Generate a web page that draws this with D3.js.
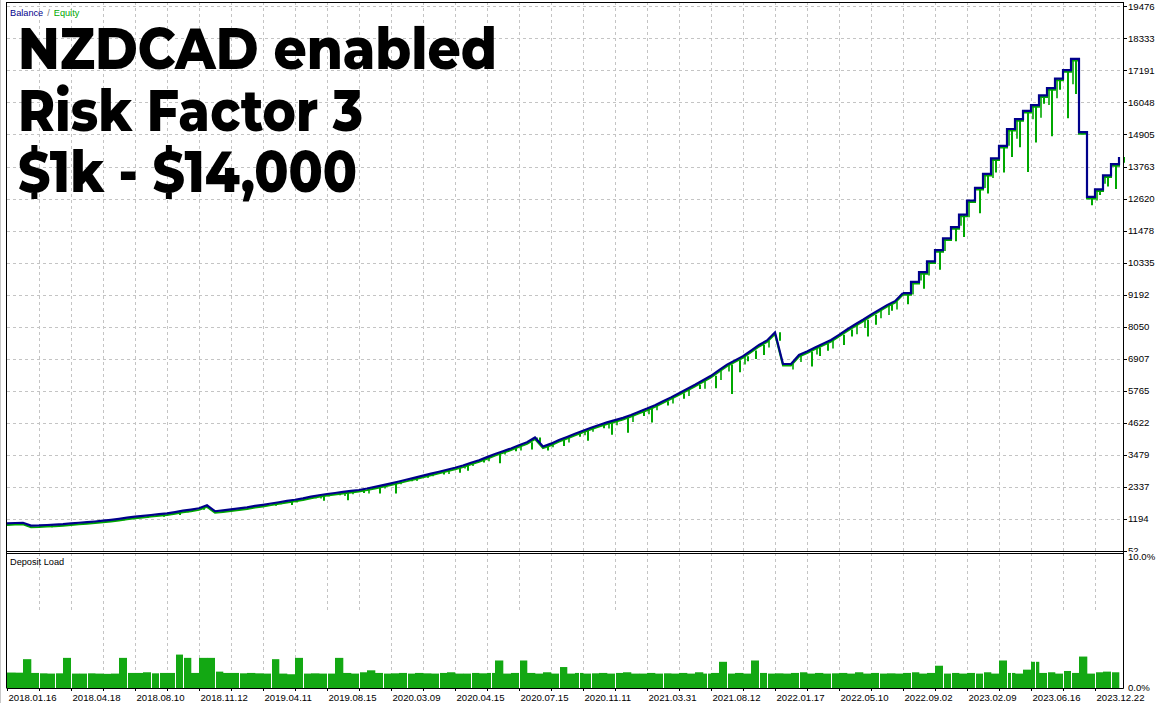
<!DOCTYPE html>
<html><head><meta charset="utf-8">
<script src="https://cdn.jsdelivr.net/npm/d3@7/dist/d3.min.js"></script>
<style>body{margin:0;background:#fff}svg{display:block}</style>
</head><body><svg id="c" width="1160" height="703"></svg>
<script>
// ---------- data ----------
const dateLabels = ["2018.01.16","2018.04.18","2018.08.10","2018.11.12","2019.04.11","2019.08.15",
  "2020.03.09","2020.04.15","2020.07.15","2020.11.11","2021.03.31","2021.08.12","2022.01.17",
  "2022.05.10","2022.09.02","2023.02.09","2023.06.16","2023.12.22"];
const yTickValues = [52,1194,2337,3479,4622,5765,6907,8050,9192,10335,11478,12620,13763,14905,16048,17191,18333,19476];
const loadTickLabels = ["0.0%","10.0%"];
const loadTickValues = [0,10];
const legendParts = ["Balance","/","Equity"];
const balance = [
 1040,1050,1060,960,965,980,995,1010,1040,1060,
 1080,1105,1133,1165,1200,1240,1275,1305,1335,1365,
 1396,1440,1490,1530,1575,1682,1470,1500,1535,1570,
 1610,1660,1700,1745,1790,1840,1880,1930,1990,2040,
 2085,2120,2160,2195,2227,2280,2340,2400,2466,2530,
 2600,2670,2740,2810,2880,2950,3020,3100,3200,3290,
 3400,3510,3610,3710,3820,3930,4100,3780,3880,4010,
 4120,4230,4340,4450,4545,4640,4720,4800,4900,5020,
 5130,5250,5390,5530,5680,5830,5980,6140,6300,6500,
 6700,6850,7000,7200,7400,7560,7850,6720,6720,7041,
 7170,7310,7440,7576,7760,7950,8130,8300,8480,8650,
 8820,8960,9250,9650,10000,10380,10780,11200,11600,12050,
 12550,13000,13500,14050,14500,15100,15450,15750,15950,16300,
 16560,16900,17200,17600,14990,12680,12950,13450,13850,14100];
// deepest equity dips below balance within each step (two spikes per step)
const equityDrawdown = [
 0,30,0,0,60,80,40,0,0,30,
 40,0,30,0,50,0,0,70,0,90,
 50,100,60,0,50,0,0,40,0,0,
 60,0,40,80,0,150,0,0,60,200,
 0,80,300,0,110,0,240,0,360,0,
 60,0,80,0,100,0,180,190,0,80,
 0,330,0,100,0,260,260,140,0,210,
 0,100,360,0,120,440,0,535,0,150,
 500,0,150,0,200,0,150,0,440,0,
 1050,420,180,300,360,0,300,0,0,0,
 535,300,250,0,360,250,0,600,360,0,
 200,0,400,0,600,0,700,0,500,800,
 0,900,700,500,950,1000,1000,2180,1330,300,
 1720,400,1720,1250,0,300,200,400,890,200];
const equityDrawdown2 = [
 0,0,0,0,0,40,0,0,30,0,
 0,40,0,50,0,0,40,0,60,0,
 0,60,0,50,0,0,40,0,50,0,
 0,50,0,0,70,0,100,60,0,120,
 90,0,150,120,0,180,0,120,0,100,
 0,120,0,90,0,150,0,110,120,0,
 150,0,120,0,180,0,150,0,130,0,
 200,0,160,150,0,220,180,0,250,0,
 200,180,0,220,0,250,0,300,0,350,
 250,0,300,0,0,250,0,0,200,250,
 0,250,0,300,0,0,350,300,0,300,
 350,300,0,450,300,500,0,450,0,400,
 600,0,500,700,0,600,700,0,500,800,
 600,700,0,900,0,0,400,300,0,0];
const depositLoad = [
 1.18,1.17,2.2,1.15,1.12,1.1,1.12,2.3,1.1,1.1,
 1.12,1.1,1.08,1.1,2.3,1.15,1.15,1.2,1.12,1.15,
 1.15,2.55,2.3,1.15,2.3,2.3,1.25,1.15,1.15,1.12,
 1.15,1.12,1.1,2.2,1.1,1.05,2.3,1.1,1.12,1.1,
 1.1,2.3,1.15,1.1,1.2,1.35,1.15,1.1,1.12,1.15,
 1.1,1.15,1.12,1.1,1.15,1.2,1.1,1.1,1.15,1.12,
 1.15,2.1,1.1,1.15,2.1,1.15,1.1,1.2,1.1,1.6,
 1.1,1.15,1.1,1.12,1.15,1.1,1.15,1.2,1.1,1.1,
 1.15,1.1,1.12,1.1,1.15,1.1,1.2,1.1,1.15,2.0,
 1.1,1.15,1.1,2.1,1.15,1.1,1.12,1.1,1.15,1.2,
 1.1,1.15,1.1,1.12,1.15,1.1,1.2,1.1,1.15,1.1,
 1.12,1.1,1.15,1.2,1.1,1.15,1.7,1.1,1.15,1.1,
 1.15,1.1,1.2,1.1,2.1,1.15,1.1,1.4,2.0,1.15,
 1.2,1.1,1.3,1.15,2.4,1.1,1.2,1.25,1.2,1.3];
const loadGaps = [4,6,8,10,15,18,19,21,22,26,29,33,37,40,44,47,50,54,58,60.5,64,69,71.5,73,76,82,87.5,90,
 94,95,99,103,109,113,117,118,121,122,125,125.5,128.5,130,132,133,136,138];
const titleLines = ["NZDCAD enabled","Risk Factor 3","$1k - $14,000"];
const titleWidths = [479,345,339];

// ---------- layout ----------
const svg = d3.select("#c");
const L = 7, R = 1123, mainTop = 2, mainBot = 551, subTop = 553, subBot = 688;
const navy = "#00008b", eqGreen = "#00a800", barGreen = "#13a813", gridC = "#c4c4c4";
const axisFont = "'Liberation Sans', Arial, sans-serif";
const STEP_FROM = 112;

const x = d3.scaleLinear().domain([0, 136]).range([L, 1095]);
const y = d3.scaleLinear().domain([52, 19476]).range([mainBot, 6.3]);
const yl = d3.scaleLinear().domain([0, 10]).range([subBot, 557]);

svg.append("rect").attr("width",1160).attr("height",703).attr("fill","#fff");
svg.append("line").attr("x1",0.5).attr("x2",0.5).attr("y1",0).attr("y2",703).attr("stroke","#c8c8c8");

const vGrid = d3.range(4, 137, 4);

const g = svg.append("g");
g.selectAll(".hg").data(yTickValues.slice(1)).join("line")
  .attr("x1",L).attr("x2",R).attr("y1",d=>Math.round(y(d))+0.5).attr("y2",d=>Math.round(y(d))+0.5)
  .attr("stroke",gridC).attr("stroke-dasharray","3,3");
g.selectAll(".vg").data(vGrid).join("line")
  .attr("x1",d=>Math.round(x(d))+0.5).attr("x2",d=>Math.round(x(d))+0.5).attr("y1",mainTop).attr("y2",mainBot)
  .attr("stroke",gridC).attr("stroke-dasharray","3,3");

svg.append("g").selectAll("text").data(titleLines).join("text")
  .attr("x",18).attr("y",(d,i)=>69+i*61.5)
  .attr("font-family","Montserrat, Inter, Lato, sans-serif").attr("font-weight",800)
  .attr("font-size",57).attr("fill","#000")
  .attr("textLength",(d,i)=>titleWidths[i]).attr("lengthAdjust","spacingAndGlyphs")
  .text(d=>d);

const idx = d3.range(balance.length);
const lineGen = d3.line().x(d=>x(d[0])).y(d=>y(d[1]));
const smoothPart = idx.filter(i=>i<=STEP_FROM).map(i=>[i,balance[i]]);
const stepPart = idx.filter(i=>i>=STEP_FROM).map(i=>[i,balance[i]]);

const eq = svg.append("g").attr("stroke",eqGreen).attr("fill","none");
eq.append("path").datum(smoothPart).attr("d",lineGen.curve(d3.curveLinear)).attr("transform","translate(0,1.6)").attr("stroke-width",2);
eq.append("path").datum(stepPart).attr("d",lineGen.curve(d3.curveStepAfter)).attr("transform","translate(0,1.6)").attr("stroke-width",2);
eq.selectAll(".s1").data(idx.filter(i=>equityDrawdown[i]>0)).join("line")
  .attr("x1",i=>x(i)+5).attr("x2",i=>x(i)+5)
  .attr("y1",i=>y(balance[i])).attr("y2",i=>y(balance[i]-equityDrawdown[i]))
  .attr("stroke-width",2);
eq.selectAll(".s2").data(idx.filter(i=>equityDrawdown2[i]>0)).join("line")
  .attr("x1",i=>x(i)+2).attr("x2",i=>x(i)+2)
  .attr("y1",i=>y(balance[i])).attr("y2",i=>y(balance[i]-equityDrawdown2[i]))
  .attr("stroke-width",1.6);

const bl = svg.append("g").attr("fill","none").attr("stroke",navy).attr("stroke-width",2.2);
bl.append("path").datum(smoothPart).attr("d",lineGen.curve(d3.curveLinear));
bl.append("path").datum(stepPart).attr("d",lineGen.curve(d3.curveStepAfter));

const ya = svg.append("g");
ya.selectAll("line").data(yTickValues).join("line")
  .attr("x1",R).attr("x2",R+4).attr("y1",d=>Math.round(y(d))+0.5).attr("y2",d=>Math.round(y(d))+0.5).attr("stroke","#000");
ya.selectAll("text").data(yTickValues).join("text")
  .attr("x",R+5).attr("y",d=>y(d)).attr("dy","0.35em")
  .attr("font-family",axisFont).attr("font-size",9.6).attr("fill","#000").text(d=>d);

// legend
const legendColors = [navy,"#777",eqGreen];
let lx = 10;
legendParts.forEach((t,i)=>{
  const el = svg.append("text").attr("x",lx).attr("y",15.5).attr("font-family",axisFont)
    .attr("font-size",9.2).attr("fill",legendColors[i]).text(t);
  lx += el.node().getComputedTextLength() + 4;
});

svg.append("rect").attr("x",1).attr("y",mainBot+1).attr("width",1159).attr("height",703-mainBot-1).attr("fill","#fff");

svg.append("g").selectAll("line").data(vGrid).join("line")
  .attr("x1",d=>Math.round(x(d))+0.5).attr("x2",d=>Math.round(x(d))+0.5).attr("y1",subTop).attr("y2",subBot)
  .attr("stroke",gridC).attr("stroke-dasharray","3,3");

const barIdx = idx.slice(0, balance.length-1);
svg.append("g").selectAll("rect").data(barIdx).join("rect")
  .attr("x",i=>x(i)).attr("width",i=>x(i+1)-x(i)+0.3)
  .attr("y",i=>yl(depositLoad[i])).attr("height",i=>subBot-yl(depositLoad[i]))
  .attr("fill",barGreen);
svg.append("g").selectAll("line").data(loadGaps).join("line")
  .attr("x1",d=>Math.round(x(d))+0.5).attr("x2",d=>Math.round(x(d))+0.5)
  .attr("y1",subTop+60).attr("y2",subBot).attr("stroke","#fff").attr("stroke-width",1);

svg.append("text").attr("x",10).attr("y",565).attr("font-family",axisFont).attr("font-size",9.2).attr("fill","#000").text("Deposit Load");

svg.append("g").selectAll("text").data(loadTickValues).join("text")
  .attr("x",R+5).attr("y",d=>yl(d)).attr("dy","0.35em")
  .attr("font-family",axisFont).attr("font-size",9.6).attr("fill","#000").text((d,i)=>loadTickLabels[i]);

const fr = svg.append("g").attr("stroke","#000").attr("fill","none");
fr.append("line").attr("x1",L-0.5).attr("x2",L-0.5).attr("y1",mainTop).attr("y2",subBot);
fr.append("line").attr("x1",R+0.5).attr("x2",R+0.5).attr("y1",mainTop).attr("y2",subBot+0.5);
fr.append("line").attr("x1",L-0.5).attr("x2",R+0.5).attr("y1",mainTop+0.5).attr("y2",mainTop+0.5);
fr.append("line").attr("x1",L-0.5).attr("x2",R+0.5).attr("y1",mainBot+0.5).attr("y2",mainBot+0.5);
fr.append("line").attr("x1",L-0.5).attr("x2",R+0.5).attr("y1",subTop+0.5).attr("y2",subTop+0.5);
fr.append("line").attr("x1",L-0.5).attr("x2",R+0.5).attr("y1",subBot+0.5).attr("y2",subBot+0.5);

const xTickIdx = d3.range(0, 137, 4);
fr.selectAll(".xt").data(xTickIdx).join("line")
  .attr("x1",d=>Math.round(x(d))+0.5).attr("x2",d=>Math.round(x(d))+0.5).attr("y1",subBot).attr("y2",subBot+3);
svg.append("g").selectAll("text").data(dateLabels).join("text")
  .attr("x",(d,i)=>x(i*8)+1.5).attr("y",701)
  .attr("font-family",axisFont).attr("font-size",9.6).attr("fill","#000").text(d=>d);
</script></body></html>
